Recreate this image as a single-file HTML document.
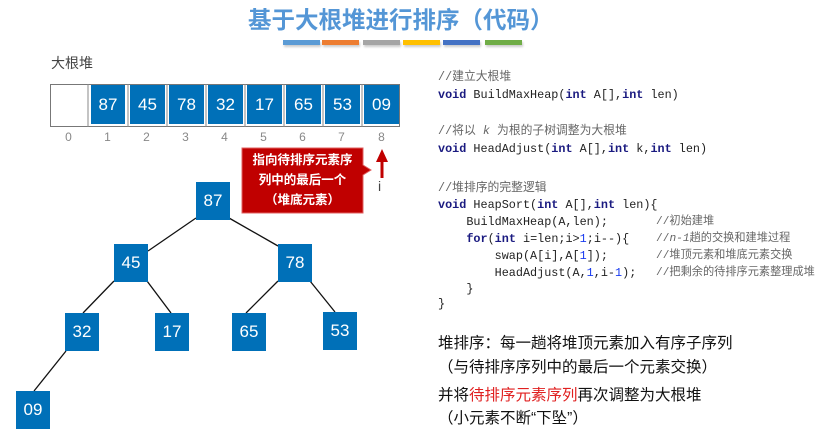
<!DOCTYPE html>
<html><head><meta charset="utf-8"><style>
body{margin:0;width:830px;height:433px;background:#fff;position:relative;overflow:hidden;font-family:"Liberation Sans","Noto Sans CJK SC",sans-serif}
.a{position:absolute}
.t{left:248px;top:1px;font-size:23.5px;font-weight:bold;color:#5496d6;white-space:nowrap}
.bar{top:40px;height:5px;width:37px;box-shadow:1px 2px 2px #ccc}
.b{background:#0070b8;color:#fff;font-size:17px;display:flex;align-items:center;justify-content:center}
.idx{top:130px;font-size:12px;color:#888;width:39px;text-align:center}
.n{width:34px;height:38px}
.code{font-family:"Liberation Mono","Noto Sans CJK SC",monospace;font-size:11.8px;line-height:15px;white-space:pre;color:#222;left:438px}
.k{color:#1a1a80;font-weight:bold}
.c{color:#666}
.cm{font-size:11.2px}
.num{color:#1a3cf0}
.bt{left:438px;font-size:15.5px;color:#111}
</style></head><body>
<div class="a t">基于大根堆进行排序（代码）</div>
<div class="a bar" style="left:283px;background:#5b9bd5"></div>
<div class="a bar" style="left:322px;background:#ed7d31"></div>
<div class="a bar" style="left:363px;background:#a5a5a5"></div>
<div class="a bar" style="left:403px;background:#ffc000"></div>
<div class="a bar" style="left:443px;background:#4472c4"></div>
<div class="a bar" style="left:485px;background:#70ad47"></div>

<div class="a" style="left:51px;top:53px;font-size:14px;color:#444">大根堆</div>
<div class="a" style="left:50px;top:84px;width:350px;height:43px;border:1px solid #777;box-sizing:border-box"></div>
<svg class="a" style="left:0;top:0" width="830" height="433">
<g stroke="#888" stroke-width="1">
<line x1="88" y1="84" x2="88" y2="127"/><line x1="128" y1="84" x2="128" y2="127"/><line x1="167" y1="84" x2="167" y2="127"/><line x1="206" y1="84" x2="206" y2="127"/><line x1="245" y1="84" x2="245" y2="127"/><line x1="284" y1="84" x2="284" y2="127"/><line x1="323" y1="84" x2="323" y2="127"/><line x1="362" y1="84" x2="362" y2="127"/>
</g>
<g stroke="#111" stroke-width="1.3">
<line x1="196" y1="218" x2="148" y2="251"/>
<line x1="229" y1="218" x2="278" y2="246"/>
<line x1="114" y1="281" x2="83" y2="313"/>
<line x1="147" y1="281" x2="171" y2="313"/>
<line x1="278" y1="281" x2="246" y2="313"/>
<line x1="310" y1="281" x2="335" y2="312"/>
<line x1="66" y1="351" x2="34" y2="391"/>
</g>
<path d="M242 148 H363 V165 L371 170 L363 175 V213 H242 Z" fill="#c00000" stroke="#e06060" stroke-width="1"/>
<line x1="382" y1="178" x2="382" y2="160" stroke="#c00000" stroke-width="3"/>
<path d="M376 162 L382 149 L388 162 Z" fill="#c00000"/>
</svg>
<div class="a b" style="left:91px;top:85px;width:34px;height:39px">87</div>
<div class="a b" style="left:130px;top:85px;width:35px;height:39px">45</div>
<div class="a b" style="left:169px;top:85px;width:35px;height:39px">78</div>
<div class="a b" style="left:208px;top:85px;width:35px;height:39px">32</div>
<div class="a b" style="left:247px;top:85px;width:35px;height:39px">17</div>
<div class="a b" style="left:286px;top:85px;width:35px;height:39px">65</div>
<div class="a b" style="left:325px;top:85px;width:35px;height:39px">53</div>
<div class="a b" style="left:364px;top:85px;width:35px;height:39px">09</div>
<div class="a idx" style="left:49px">0</div><div class="a idx" style="left:88px">1</div><div class="a idx" style="left:127px">2</div><div class="a idx" style="left:166px">3</div><div class="a idx" style="left:205px">4</div><div class="a idx" style="left:244px">5</div><div class="a idx" style="left:283px">6</div><div class="a idx" style="left:322px">7</div><div class="a idx" style="left:362px">8</div>
<div class="a" style="left:242px;top:150px;width:121px;text-align:center;color:#fff;font-size:12.5px;line-height:20px;font-weight:bold">指向待排序元素序<br>列中的最后一个<br>（堆底元素）</div>
<div class="a" style="left:378px;top:178px;font-size:14px;color:#444">i</div>

<div class="a b n" style="left:196px;top:182px">87</div>
<div class="a b n" style="left:114px;top:244px">45</div>
<div class="a b n" style="left:278px;top:244px">78</div>
<div class="a b n" style="left:65px;top:313px">32</div>
<div class="a b n" style="left:155px;top:313px">17</div>
<div class="a b n" style="left:232px;top:313px">65</div>
<div class="a b n" style="left:323px;top:312px">53</div>
<div class="a b n" style="left:16px;top:391px">09</div>

<div class="a code c" style="top:70px">//建立大根堆</div>
<div class="a code" style="top:88px"><span class="k">void</span> BuildMaxHeap(<span class="k">int</span> A[],<span class="k">int</span> len)</div>
<div class="a code c" style="top:124px">//将以 <i>k</i> 为根的子树调整为大根堆</div>
<div class="a code" style="top:142px"><span class="k">void</span> HeadAdjust(<span class="k">int</span> A[],<span class="k">int</span> k,<span class="k">int</span> len)</div>
<div class="a code c" style="top:181px">//堆排序的完整逻辑</div>
<div class="a code" style="top:198px"><span class="k">void</span> HeapSort(<span class="k">int</span> A[],<span class="k">int</span> len){</div>
<div class="a code" style="top:215px">    BuildMaxHeap(A,len);</div>
<div class="a code" style="top:232px">    <span class="k">for</span>(<span class="k">int</span> i=len;i&gt;<span class="num">1</span>;i--){</div>
<div class="a code" style="top:249px">        swap(A[i],A[<span class="num">1</span>]);</div>
<div class="a code" style="top:266px">        HeadAdjust(A,<span class="num">1</span>,i-<span class="num">1</span>);</div>
<div class="a code" style="top:282px">    }</div>
<div class="a code" style="top:297px">}</div>
<div class="a code c cm" style="top:215px;left:656px">//初始建堆</div>
<div class="a code c cm" style="top:232px;left:656px">//<i>n-1</i>趟的交换和建堆过程</div>
<div class="a code c cm" style="top:249px;left:656px">//堆顶元素和堆底元素交换</div>
<div class="a code c cm" style="top:266px;left:656px">//把剩余的待排序元素整理成堆</div>

<div class="a bt" style="top:331px">堆排序：每一趟将堆顶元素加入有序子序列</div>
<div class="a bt" style="top:355px">（与待排序序列中的最后一个元素交换）</div>
<div class="a bt" style="top:383px">并将<span style="color:#e02020">待排序元素序列</span>再次调整为大根堆</div>
<div class="a bt" style="top:406px">（小元素不断“下坠”）</div>
</body></html>
